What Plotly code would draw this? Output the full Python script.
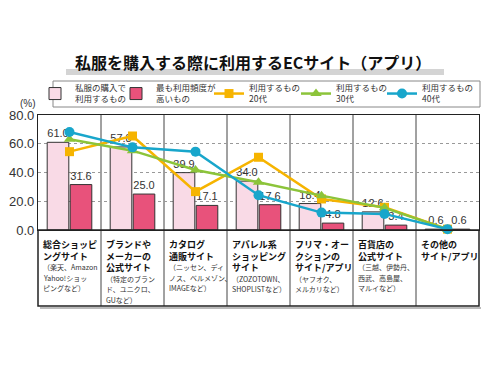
import plotly.graph_objects as go

categories = ["総合ショッピングサイト", "ブランドやメーカーの公式サイト", "カタログ通販サイト",
              "アパレル系ショッピングサイト", "フリマ・オークションのサイト/アプリ",
              "百貨店の公式サイト", "その他のサイト/アプリ"]
cat_titles = [["総合ショッピ", "ングサイト"],
              ["ブランドや", "メーカーの", "公式サイト"],
              ["カタログ", "通販サイト"],
              ["アパレル系", "ショッピング", "サイト"],
              ["フリマ・オー", "クションの", "サイト/アプリ"],
              ["百貨店の", "公式サイト"],
              ["その他の", "サイト/アプリ"]]
cat_subs = [["（楽天、Amazon", "Yahoo!ショッ", "ピングなど）"],
            ["（特定のブラン", "ド、ユニクロ、", "GUなど）"],
            ["（ニッセン、ディ", "ノス、ベルメゾン、", "IMAGEなど）"],
            ["（ZOZOTOWN、", "SHOPLISTなど）"],
            ["（ヤフオク、", "メルカリなど）"],
            ["（三越、伊勢丹、", "西武、高島屋、", "マルイなど）"],
            []]

used_for_clothes = [61.0, 57.8, 39.9, 34.0, 18.4, 12.6, 0.6]
most_frequent = [31.6, 25.0, 17.1, 17.6, 4.8, 3.4, 0.6]
age20 = [54.5, 65.4, 26.7, 50.6, 21.6, 15.8, 0.6]
age30 = [63.1, 55.2, 41.7, 33.2, 23.9, 15.4, 0.6]
age40 = [68.2, 57.5, 54.5, 24.2, 12.1, 11.2, 0.6]

y_ticks = [0, 20, 40, 60, 80]

FONT = "Liberation Sans, Arial, Noto Sans CJK JP, sans-serif"
JFONT = "Noto Sans CJK JP, sans-serif"

# page has an 8px body margin: figure coordinates = page coordinates - 8
OFF = 8
FIG_W, FIG_H = 500 - OFF, 375 - OFF
PLOT_L, PLOT_R, PLOT_T, PLOT_B = 38, 479, 115, 230  # page pixels of plot area
PLOT_H = float(PLOT_B - PLOT_T)
PLOT_W = float(PLOT_R - PLOT_L)


def px_y(py):
    return (PLOT_B - py) / PLOT_H


def px_x(px):
    return (px - PLOT_L) / PLOT_W


fig = go.Figure()
fig.add_trace(go.Bar(
    x=categories, y=used_for_clothes, name="私服の購入で<br>利用するもの", legend="legend",
    marker=dict(color="#F9DAE6", line=dict(color="#333333", width=1)),
    texttemplate="%{y:.1f}", textposition="outside", textangle=0,
    textfont=dict(size=11, color="#333333", family=FONT), cliponaxis=False))
fig.add_trace(go.Bar(
    x=categories, y=most_frequent, name="最も利用頻度が<br>高いもの", legend="legend2",
    marker=dict(color="#E8527B", line=dict(color="#333333", width=1)),
    texttemplate="%{y:.1f}", textposition="outside", textangle=0,
    textfont=dict(size=11, color="#333333", family=FONT), cliponaxis=False))
fig.add_trace(go.Scatter(
    x=categories, y=age20, name="利用するもの<br>20代", mode="lines+markers", legend="legend3",
    line=dict(color="#F6B400", width=2.5),
    marker=dict(symbol="square", size=9, color="#F6B400"), cliponaxis=False))
fig.add_trace(go.Scatter(
    x=categories, y=age30, name="利用するもの<br>30代", mode="lines+markers", legend="legend4",
    line=dict(color="#8CC43A", width=2.5),
    marker=dict(symbol="triangle-up", size=10, color="#8CC43A"), cliponaxis=False))
fig.add_trace(go.Scatter(
    x=categories, y=age40, name="利用するもの<br>40代", mode="lines+markers", legend="legend5",
    line=dict(color="#18A6CB", width=2.5),
    marker=dict(symbol="circle", size=10, color="#18A6CB"), cliponaxis=False))

shapes = []
n = len(categories)
TABLE_BOTTOM = px_y(306)
for i in range(n - 1):
    shapes.append(dict(type="line", xref="x", yref="paper", x0=i + 0.5, x1=i + 0.5,
                       y0=TABLE_BOTTOM, y1=1, line=dict(color="#444444", width=1), layer="below"))
# category table frame with slight shadow
shapes.append(dict(type="line", xref="paper", yref="paper", x0=px_x(40), x1=px_x(481),
                   y0=px_y(308), y1=px_y(308), line=dict(color="#BBBBBB", width=2)))
shapes.append(dict(type="rect", xref="paper", yref="paper", x0=0, x1=1,
                   y0=TABLE_BOTTOM, y1=0, line=dict(color="#222222", width=1.5)))
# title underline bar
shapes.append(dict(type="rect", xref="paper", yref="paper",
                   x0=px_x(66), x1=px_x(444), y0=px_y(75), y1=px_y(69),
                   fillcolor="#D4D4D4", line=dict(width=0), layer="below"))
# legend frame
shapes.append(dict(type="rect", xref="paper", yref="paper",
                   x0=px_x(53), x1=px_x(480), y0=px_y(107), y1=px_y(81),
                   fillcolor="white", line=dict(color="#888888", width=1)))

TITLE_SIZE = 9
TITLE_LH = TITLE_SIZE * 1.3
annotations = []
for i, (titles, subs) in enumerate(zip(cat_titles, cat_subs)):
    first_c = 242
    annotations.append(dict(x=categories[i], xref="x", y=px_y(first_c - TITLE_LH / 2),
                            yref="paper", xanchor="left", yanchor="top", xshift=-28.5,
                            align="left", text="<b>" + "<br>".join(titles) + "</b>",
                            showarrow=False,
                            font=dict(size=TITLE_SIZE, color="#111111", family=JFONT)))
    last = first_c + TITLE_LH * (len(titles) - 1)
    for j, s in enumerate(subs):
        yc = last + 13.5 + 10.5 * j
        annotations.append(dict(x=categories[i], xref="x", y=px_y(yc), yref="paper",
                                xanchor="left", yanchor="middle", xshift=-28.5,
                                text=s, showarrow=False,
                                font=dict(size=7, color="#333333", family=JFONT)))
annotations.append(dict(x=px_x(28), xref="paper", y=px_y(103), yref="paper", text="(%)",
                        showarrow=False, xanchor="center", yanchor="middle",
                        font=dict(size=10, color="#333333", family=FONT)))
annotations.append(dict(x=px_x(253), xref="paper", y=px_y(62), yref="paper",
                        text="<b>私服を購入する際に利用するECサイト（アプリ）</b>",
                        showarrow=False, xanchor="center", yanchor="middle",
                        font=dict(size=16, color="#111111", family=JFONT)))


def legend_at(page_x):
    return dict(orientation="h", xref="container", x=(page_x - OFF) / FIG_W, xanchor="left",
                yref="container", y=1 - (94 - OFF) / FIG_H, yanchor="middle",
                borderwidth=0, bgcolor="rgba(0,0,0,0)",
                font=dict(size=8.5, color="#333333", family=JFONT),
                itemwidth=30)


legend_text_x = [75, 148, 245, 332, 418]  # page x where each legend text starts
legend_shift = [40, 32, 36, 36, 36]

fig.update_layout(
    width=FIG_W, height=FIG_H,
    margin=dict(l=PLOT_L - OFF, r=FIG_W - (PLOT_R - OFF), t=PLOT_T - OFF,
                b=FIG_H - (PLOT_B - OFF), autoexpand=False),
    paper_bgcolor="white", plot_bgcolor="white",
    font=dict(family=FONT, color="#333333"),
    barmode="group", bargap=0.27, bargroupgap=0.06,
    showlegend=True,
    legend=legend_at(legend_text_x[0] - legend_shift[0]),
    legend2=legend_at(legend_text_x[1] - legend_shift[1]),
    legend3=legend_at(legend_text_x[2] - legend_shift[2]),
    legend4=legend_at(legend_text_x[3] - legend_shift[3]),
    legend5=legend_at(legend_text_x[4] - legend_shift[4]),
    xaxis=dict(type="category", range=[-0.5, n - 0.5], showticklabels=False,
               showgrid=False, showline=True, linecolor="#222222", linewidth=1.2,
               mirror=True, ticks="", zeroline=False, automargin=False),
    yaxis=dict(range=[0, 80], tickvals=y_ticks, tickformat=".1f",
               showgrid=True, gridcolor="#999999", griddash="dot", gridwidth=1,
               showline=True, linecolor="#222222", linewidth=1.2, mirror=True,
               ticks="", zeroline=False, automargin=False,
               tickfont=dict(size=13, color="#333333", family=FONT)),
    shapes=shapes, annotations=annotations,
)

fig.write_html("out.html")
